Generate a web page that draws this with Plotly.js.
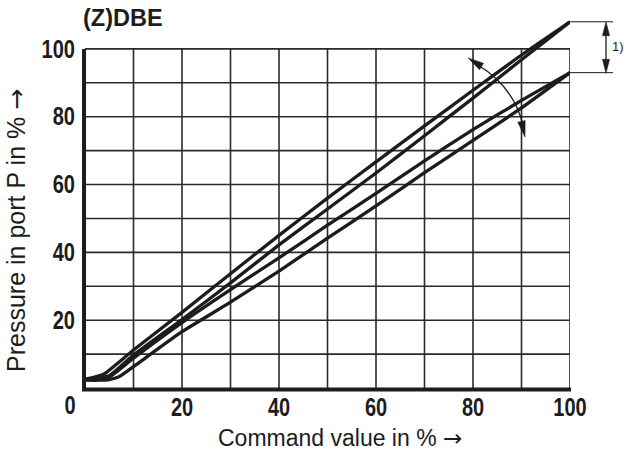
<!DOCTYPE html>
<html>
<head>
<meta charset="utf-8">
<script src="https://cdn.plot.ly/plotly-3.0.1.min.js"></script>
<style>html,body{margin:0;padding:0;background:#fff;}#chart{width:627px;height:453px;}</style>
</head>
<body>
<div id="chart"></div>
<script>
// Command value (%) and pressure (%) for the four hysteresis curves
const xA = [0, 2, 4, 10, 20, 30, 40, 50, 60, 70, 80, 90, 100];
const yA = [2.6, 3.2, 4.2, 11.2, 22.3, 33.7, 45, 56, 66.7, 77.3, 87.8, 98.2, 108];
const xB = [0, 3, 5, 10, 20, 30, 40, 50, 60, 70, 80, 90, 100];
const yB = [2.5, 3.0, 3.6, 9.7, 20.2, 31, 42.2, 52.8, 63.4, 74.4, 85.5, 96.8, 108];
const xC = [0, 3, 5, 10, 20, 30, 40, 50, 60, 70, 80, 90, 100];
const yC = [2.5, 2.8, 3.2, 8.8, 19.3, 29, 38.4, 48, 57.4, 67, 76.2, 84.8, 93];
const xD = [0, 3, 5, 7, 10, 20, 30, 40, 50, 60, 70, 80, 90, 100];
const yD = [2.3, 2.3, 2.5, 3.3, 6.3, 16.6, 25.3, 34.5, 44.2, 53.7, 63.5, 73, 82.6, 93];

const tickVals = [20, 40, 60, 80, 100];
const tickText = ['20', '40', '60', '80', '100'];
const gridVals = [10, 20, 30, 40, 50, 60, 70, 80, 90, 100];
const yMax = 110;

const ink = '#1c1c1c';
const squash = 0.8; // horizontal condensing of the bold tick labels

const lineStyle = {color: ink, width: 3.3, shape: 'spline', smoothing: 0.5};
const mk = (x, y) => ({x: x, y: y, type: 'scatter', mode: 'lines', line: lineStyle, hoverinfo: 'skip', showlegend: false});
const traces = [mk(xA, yA), mk(xB, yB), mk(xC, yC), mk(xD, yD)];

// pixel helpers for decorations (plot area: left 85, right 570, top 15, bottom 388)
const L = 85, R = 570, T = 15, B = 388;
const px = p => (p - L) / (R - L);
const py = p => (B - p) / (B - T);
function head(tipX, tipY, dx, dy, len, hw) {
  const n = Math.hypot(dx, dy); const ux = dx / n, uy = dy / n;
  const bx = tipX - ux * len, by = tipY - uy * len;
  const nx = -uy, ny = ux;
  const p1 = [bx + nx * hw, by + ny * hw], p2 = [bx - nx * hw, by - ny * hw];
  return {type: 'path', xref: 'paper', yref: 'paper', fillcolor: ink, line: {color: ink, width: 0.5},
    path: `M ${px(tipX)} ${py(tipY)} L ${px(p1[0])} ${py(p1[1])} L ${px(p2[0])} ${py(p2[1])} Z`};
}

const shapes = [];
gridVals.forEach(v => {
  shapes.push({type: 'line', xref: 'x', yref: 'y', x0: v, x1: v, y0: 0, y1: 100, line: {color: '#2a2a2a', width: 1.6}, layer: 'below'});
  shapes.push({type: 'line', xref: 'x', yref: 'y', x0: 0, x1: 100, y0: v, y1: v, line: {color: '#2a2a2a', width: 1.6}, layer: 'below'});
});
// thick axis lines
shapes.push({type: 'line', xref: 'paper', yref: 'paper', x0: -0.002, x1: -0.002, y0: -0.004, y1: 100 / yMax, line: {color: ink, width: 4}});
shapes.push({type: 'line', xref: 'paper', yref: 'paper', x0: -0.006, x1: 1.002, y0: -0.004, y1: -0.004, line: {color: ink, width: 4}});
// dimension marker for note 1)
shapes.push({type: 'line', xref: 'paper', yref: 'paper', x0: 1.0, x1: px(613), y0: 108 / yMax, y1: 108 / yMax, line: {color: ink, width: 1}});
shapes.push({type: 'line', xref: 'paper', yref: 'paper', x0: 1.0, x1: px(613), y0: 93 / yMax, y1: 93 / yMax, line: {color: ink, width: 1}});
shapes.push({type: 'line', xref: 'paper', yref: 'paper', x0: px(606), x1: px(606), y0: py(32), y1: py(62), line: {color: ink, width: 1.3}});
shapes.push(head(606, 21.7, 0, -1, 14, 3.6));
shapes.push(head(606, 73.3, 0, 1, 14, 3.6));
// curved double arrow
shapes.push({type: 'path', xref: 'paper', yref: 'paper',
  path: `M ${px(478)} ${py(65)} Q ${px(513.5)} ${py(86.5)} ${px(523)} ${py(125)}`, line: {color: ink, width: 1.3}});
shapes.push(head(468, 58, -0.847, -0.531, 16, 3.8));
shapes.push(head(525, 137, 0.222, 0.975, 16, 3.8));

const labelFont = {family: 'Liberation Sans, Arial, sans-serif', size: 25, color: ink, weight: 'bold'};
const titleFont = {family: 'Liberation Sans, Arial, sans-serif', size: 23, color: ink};
const arrow = '<span style="font-family:DejaVu Sans">→</span>';

const annotations = [
  {text: '<b>(Z)DBE</b>', xref: 'paper', yref: 'paper', x: -0.008, y: 0.992, xanchor: 'left', yanchor: 'middle', showarrow: false,
   font: {family: 'Liberation Sans, Arial, sans-serif', size: 23.5, color: ink}},
  {text: '<b>0</b>', xref: 'paper', yref: 'paper', x: px(70), y: py(405), xanchor: 'center', yanchor: 'middle', showarrow: false, font: labelFont},
  {text: 'Command value in % ' + arrow, xref: 'paper', yref: 'paper', x: px(340), y: py(438), xanchor: 'center', yanchor: 'middle', showarrow: false, font: titleFont},
  {text: 'Pressure in port P in % ' + arrow, xref: 'paper', yref: 'paper', x: px(17), y: py(231), xanchor: 'center', yanchor: 'middle', textangle: -90, showarrow: false,
   font: {family: 'Liberation Sans, Arial, sans-serif', size: 25, color: ink}},
  {text: '1)', xref: 'paper', yref: 'paper', x: px(618), y: py(47), xanchor: 'center', yanchor: 'middle', showarrow: false, font: {family: 'Liberation Sans, Arial, sans-serif', size: 13, color: ink}}
];

const layout = {
  width: 627, height: 453,
  margin: {l: L, r: 627 - R, t: T, b: 453 - B},
  paper_bgcolor: '#ffffff', plot_bgcolor: '#ffffff',
  showlegend: false,
  xaxis: {range: [0, 100], tickvals: tickVals, ticktext: tickText, showgrid: false, zeroline: false, showline: false, ticks: '',
          tickfont: labelFont, ticklabelstandoff: 2, fixedrange: true},
  yaxis: {range: [0, yMax], tickvals: tickVals, ticktext: tickText, showgrid: false, zeroline: false, showline: false, ticks: '',
          tickfont: labelFont, ticklabelstandoff: 9, fixedrange: true},
  shapes: shapes,
  annotations: annotations
};

Plotly.newPlot('chart', traces, layout, {displayModeBar: false, staticPlot: true}).then(() => {
  const nodes = document.querySelectorAll('.xtick text, .ytick text');
  const annTexts = Array.from(document.querySelectorAll('.annotation-text')).filter(t => t.textContent.trim() === '0');
  [...nodes, ...annTexts].forEach(t => {
    const w = t.getComputedTextLength();
    t.setAttribute('textLength', (w * squash).toFixed(2));
    t.setAttribute('lengthAdjust', 'spacingAndGlyphs');
  });
});
</script>
</body>
</html>
